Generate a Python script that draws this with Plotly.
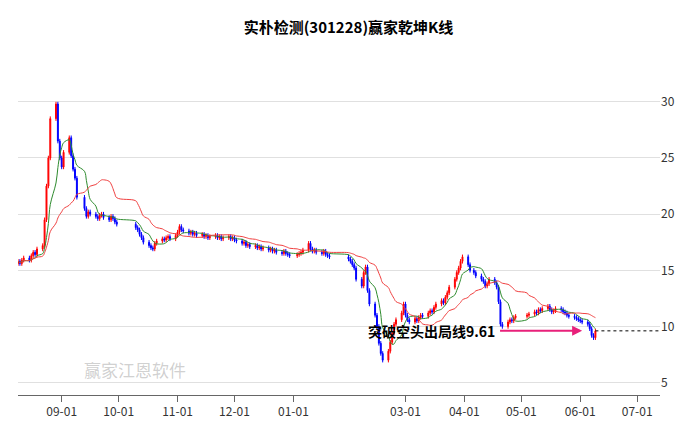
import plotly.graph_objects as go
import pandas as pd

# daily closes, month by month
aug = [15.8, 15.6, 15.9, 16.1, 15.9, 16.3, 16.6, 16.4, 16.9, 17.2, 19.5, 22.5, 25.0, 28.5, 29.8, 26.5, 25.0]
sep = [24.2, 25.5, 26.8, 25.2, 24.0, 23.2, 21.5, 20.5, 19.8, 20.2, 20.0, 19.8, 19.6, 19.9, 20.0, 19.7, 19.5, 19.8, 19.6, 19.3, 19.1]
oct_ = [18.8, 18.6, 18.2, 17.9, 17.5, 17.2, 17.0, 16.9, 17.4, 17.6, 17.8, 17.7, 17.9, 18.0, 17.8, 18.1]
nov = [18.4, 18.9, 18.6, 18.5, 18.3, 18.4, 18.2, 18.3, 18.1, 18.2, 18.0, 18.1, 17.9, 18.0, 18.1, 17.9, 18.0, 17.8, 17.9, 18.0, 17.8, 17.9]
dec = [17.7, 17.6, 17.4, 17.5, 17.2, 17.3, 17.1, 17.2, 17.0, 17.1, 16.9, 17.0, 16.8, 16.9, 16.7, 16.8, 16.6, 16.5, 16.7, 16.5, 16.4, 16.3]
jan = [16.4, 16.5, 16.6, 16.8, 17.4, 16.9, 16.7, 16.8, 16.6, 16.5, 16.7, 16.4, 16.3, 16.2, 16.0, 15.8]
feb = [15.5, 15.2, 14.2, 13.6, 14.8, 15.3, 13.2, 12.0, 11.0, 10.0, 8.5, 7.6, 7.0, 7.8, 8.6, 9.4, 10.2, 10.6, 11.2, 12.0]
mar = [11.0, 10.6, 10.4, 10.7, 10.5, 10.8, 11.0, 10.9, 11.2, 11.4, 11.3, 11.7, 12.0, 12.3, 12.1, 12.6, 13.0, 13.5, 14.2, 14.8, 15.2, 15.8, 16.2]
apr = [15.5, 15.0, 14.8, 14.5, 14.2, 14.0, 13.6, 13.8, 14.2, 13.9, 13.5, 12.2, 10.2, 10.0, 10.4, 10.6, 10.5, 10.8, 10.9]
may = [11.0, 11.1, 11.3, 11.2, 11.5, 11.4, 11.6, 11.8, 11.5, 11.3, 11.4, 11.6, 11.5, 11.3, 11.2, 11.0, 10.9, 10.8, 10.7, 10.6]
jun = [10.5, 10.4, 10.2, 9.8, 9.2, 9.0, 9.6]

holidays = ["2022-09-12", "2022-10-03", "2022-10-04", "2022-10-05", "2022-10-06", "2022-10-07",
            "2023-01-02", "2023-01-23", "2023-01-24", "2023-01-25", "2023-01-26", "2023-01-27",
            "2023-04-05", "2023-05-01", "2023-05-02", "2023-05-03"]

line_level = 9.61
x_ticks = ["2022-09-01", "2022-10-01", "2022-11-01", "2022-12-01", "2023-01-01",
           "2023-03-01", "2023-04-01", "2023-05-01", "2023-06-01", "2023-07-01"]
x_labels = ["09-01", "10-01", "11-01", "12-01", "01-01", "03-01", "04-01", "05-01", "06-01", "07-01"]

closes = aug + sep + oct_ + nov + dec + jan + feb + mar + apr + may + jun
days = pd.bdate_range("2022-08-09", "2023-07-31")
days = days[~days.isin(pd.to_datetime(holidays))][:len(closes)]

df = pd.DataFrame({"close": closes}, index=days)
df["open"] = df["close"].shift(1).fillna(df["close"].iloc[0] - 0.2)
df["high"] = df[["open", "close"]].max(axis=1) + 0.2
df["low"] = df[["open", "close"]].min(axis=1) - 0.2
ma_short = df["close"].rolling(7, min_periods=1).mean()
ma_long = df["close"].rolling(22, min_periods=1).mean()

fig = go.Figure()
fig.add_trace(go.Candlestick(
    x=df.index, open=df["open"], high=df["high"], low=df["low"], close=df["close"],
    increasing=dict(line=dict(color="#ff0000", width=1), fillcolor="#ff0000"),
    decreasing=dict(line=dict(color="#0000ff", width=1), fillcolor="#0000ff"),
    whiskerwidth=0, showlegend=False))
fig.add_trace(go.Scatter(x=df.index, y=ma_short, mode="lines",
                         line=dict(color="#2e8b2e", width=1, shape="spline"), showlegend=False))
fig.add_trace(go.Scatter(x=df.index, y=ma_long, mode="lines",
                         line=dict(color="#f04040", width=1, shape="spline", smoothing=1.3),
                         showlegend=False))
fig.add_trace(go.Scatter(x=[df.index[-1], pd.Timestamp("2023-07-13")], y=[line_level, line_level],
                         mode="lines", line=dict(color="black", width=1, dash="dot"), showlegend=False))

fig.add_annotation(x=df.index[-6], y=line_level, ax=pd.Timestamp("2023-04-19"), ay=line_level,
                   axref="x", ayref="y", showarrow=True, arrowhead=2, arrowsize=1,
                   arrowwidth=2, arrowcolor="#e8207a", text="")
fig.add_annotation(x=pd.Timestamp("2023-04-18"), y=line_level, xanchor="right", showarrow=False,
                   text="<b>突破空头出局线9.61</b>", font=dict(size=14, color="black"))
fig.add_annotation(xref="paper", yref="paper", x=0.1, y=0.03, xanchor="left", showarrow=False,
                   text="赢家江恩软件", font=dict(size=17, color="rgba(150,150,150,0.45)"))

fig.update_layout(
    width=681, height=419,
    margin=dict(l=10, r=29, t=32, b=32),
    title=dict(text="<b>实朴检测(301228)赢家乾坤K线</b>", x=0.5, y=0.965, xanchor="center",
               font=dict(size=15, color="black")),
    font=dict(family="Noto Sans CJK SC", size=12, color="#333"),
    plot_bgcolor="white", paper_bgcolor="white",
    xaxis=dict(range=["2022-08-09", "2023-07-13"], tickvals=x_ticks, ticktext=x_labels,
               showgrid=False, ticks="outside", ticklen=6, tickcolor="#666", automargin=False,
               showline=True, linecolor="#666", rangeslider=dict(visible=False)),
    yaxis=dict(range=[3.9, 35.5], side="right", tickvals=[5, 10, 15, 20, 25, 30], automargin=False,
               gridcolor="#e0e0e0", zeroline=False),
)

fig.write_html("out.html")
